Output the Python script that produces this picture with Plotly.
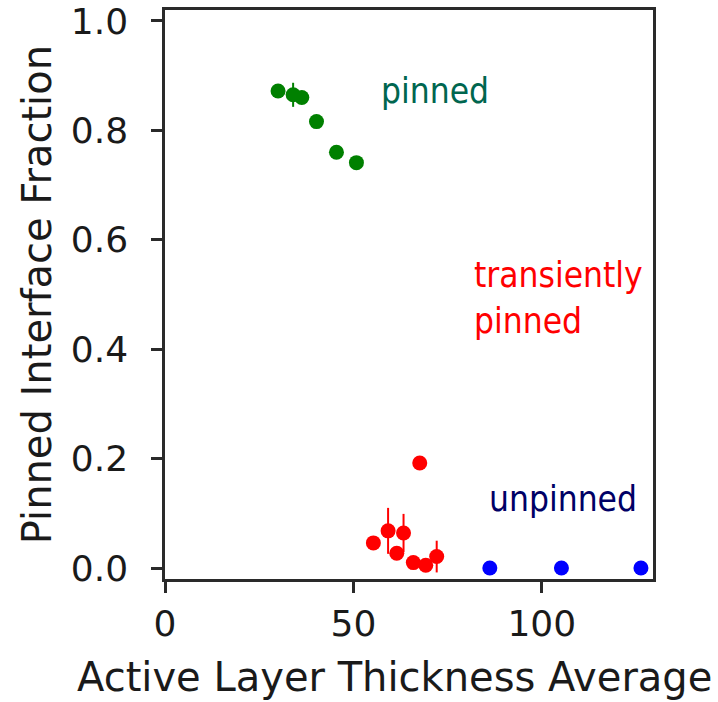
import plotly.graph_objects as go

# Pinned regime
green_x = [30.0, 34.0, 36.3, 40.2, 45.5, 50.8]
green_y = [0.872, 0.865, 0.860, 0.816, 0.760, 0.741]
green_err = [0.005, 0.022, 0.005, 0.005, 0.005, 0.005]

# Transiently pinned regime
red_x = [67.6, 55.3, 59.2, 63.3, 61.5, 65.9, 69.2, 72.1]
red_y = [0.192, 0.046, 0.068, 0.064, 0.027, 0.010, 0.005, 0.021]
red_err = [0.005, 0.005, 0.042, 0.035, 0.005, 0.005, 0.005, 0.029]

# Unpinned regime
blue_x = [86.2, 105.2, 126.3]
blue_y = [0.0, 0.0, 0.0]
blue_err = [0.0, 0.0, 0.0]

x_ticks = [0, 50, 100]
y_ticks = [0.0, 0.2, 0.4, 0.6, 0.8, 1.0]

x_title = "Active Layer Thickness Average"
y_title = "Pinned Interface Fraction"

fig = go.Figure()


def add_group(xs, ys, errs, color):
    fig.add_trace(go.Scatter(
        x=xs, y=ys, mode="markers",
        marker=dict(color=color, size=15, line=dict(width=0)),
        error_y=dict(type="data", array=errs, visible=True,
                     color=color, thickness=2, width=0),
        showlegend=False,
    ))


add_group(green_x, green_y, green_err, "#008000")
add_group(red_x, red_y, red_err, "#ff0000")
add_group(blue_x, blue_y, blue_err, "#0000ff")

label_font = "DejaVu Sans Condensed, DejaVu Sans, sans-serif"
axis_font = "DejaVu Sans, sans-serif"
line_col = "#2a2a2a"

fig.add_annotation(x=71.7, y=0.872, text="pinned", showarrow=False,
                   xanchor="center", yanchor="middle",
                   font=dict(family=label_font, size=35, color="#00664f"))
fig.add_annotation(x=81.4, y=0.494, text="transiently<br>pinned", showarrow=False,
                   xanchor="left", yanchor="middle", align="left",
                   font=dict(family=label_font, size=35, color="#ff0000"))
fig.add_annotation(x=85.4, y=0.127, text="unpinned", showarrow=False,
                   xanchor="left", yanchor="middle",
                   font=dict(family=label_font, size=35, color="#000066"))

# Axis titles
fig.add_annotation(x=0.471, y=-0.173, xref="paper", yref="paper",
                   text=x_title, showarrow=False,
                   xanchor="center", yanchor="middle",
                   font=dict(family=axis_font, size=40, color="#1a1a1a"))
fig.add_annotation(x=-0.262, y=0.499, xref="paper", yref="paper",
                   text=y_title, showarrow=False, textangle=-90,
                   xanchor="center", yanchor="middle",
                   font=dict(family=axis_font, size=40, color="#1a1a1a"))

axis_common = dict(
    showline=True, mirror=True, linecolor=line_col, linewidth=2.5,
    ticks="outside", ticklen=11, tickwidth=2.5, tickcolor=line_col,
    showgrid=False, zeroline=False, automargin=False,
    tickfont=dict(family=axis_font, size=36, color="#1a1a1a"),
)

fig.update_xaxes(range=[0, 129.5], tickvals=x_ticks,
                 ticktext=[str(v) for v in x_ticks], ticklabelstandoff=0,
                 **axis_common)
fig.update_yaxes(range=[-0.02, 1.02], tickvals=y_ticks,
                 ticktext=[f"{v:.1f}" for v in y_ticks], ticklabelstandoff=16,
                 **axis_common)

fig.update_layout(
    width=718, height=702,
    margin=dict(l=165, r=65, t=10, b=123),
    plot_bgcolor="white", paper_bgcolor="white",
)

fig.write_html("out.html")
